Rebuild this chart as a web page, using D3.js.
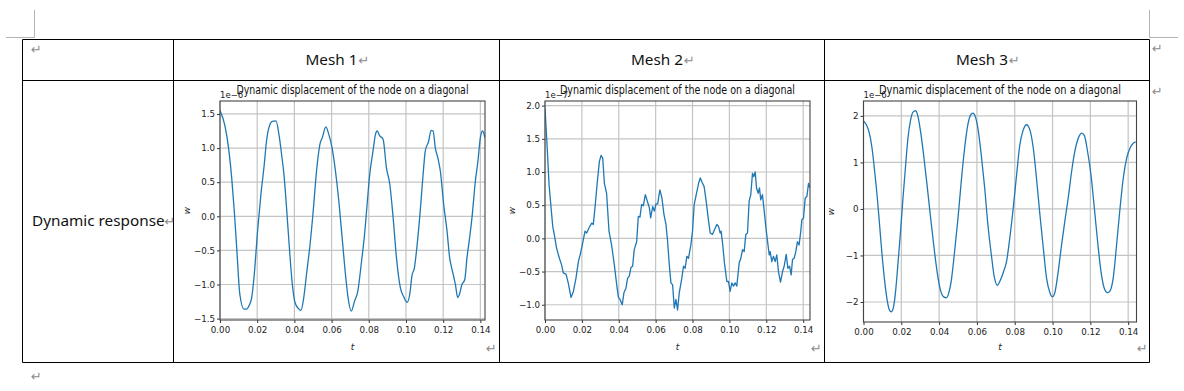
<!DOCTYPE html>
<html>
<head>
<meta charset="utf-8">
<script src="https://cdn.jsdelivr.net/npm/d3@7"></script>
<style>
  body { margin: 0; background: #fff; }
  svg text { font-family: "DejaVu Sans", sans-serif; }
  .doc { font-family: "Noto Sans", sans-serif; font-size: 15.3px; fill: #111; }
  .mark { font-family: "DejaVu Sans", sans-serif; font-size: 13px; fill: #8c8c8c; }
</style>
</head>
<body>
<div id="page"></div>
<script>
// Table text
const headers = ['Mesh 1', 'Mesh 2', 'Mesh 3'];
const rowLabel = 'Dynamic response';
const chartTitle = 'Dynamic displacement of the node on a diagonal';

// Mesh 1 (w in 1e-6)
const t1 = [0, 0.0027, 0.0048, 0.0063, 0.0077, 0.009, 0.0107, 0.0129, 0.0143, 0.0156, 0.017, 0.0184, 0.0202, 0.022, 0.0238, 0.025, 0.0263, 0.0281, 0.0301, 0.0317, 0.0331, 0.0344, 0.0358, 0.0372, 0.0389, 0.0403, 0.0421, 0.0435, 0.045, 0.0466, 0.0484, 0.0501, 0.0519, 0.0537, 0.0551, 0.0569, 0.0585, 0.0603, 0.0621, 0.0639, 0.0657, 0.0675, 0.0689, 0.0706, 0.0723, 0.0741, 0.0759, 0.0779, 0.0791, 0.0805, 0.0823, 0.0836, 0.0845, 0.0859, 0.0877, 0.0895, 0.0913, 0.0931, 0.0949, 0.097, 0.0988, 0.1006, 0.102, 0.1033, 0.1045, 0.106, 0.1078, 0.1092, 0.1104, 0.1122, 0.1135, 0.1146, 0.1158, 0.1171, 0.1185, 0.1203, 0.1221, 0.1235, 0.1248, 0.1266, 0.1278, 0.1287, 0.1301, 0.1316, 0.1328, 0.1342, 0.1355, 0.1373, 0.1387, 0.14, 0.1412, 0.1425];
const w1 = [1.55, 1.32, 0.96, 0.56, 0.07, -0.47, -1.15, -1.36, -1.36, -1.31, -1.2, -0.86, -0.22, 0.32, 0.76, 1.10, 1.30, 1.39, 1.40, 1.20, 0.91, 0.61, 0.12, -0.42, -1.0, -1.26, -1.35, -1.38, -1.2, -0.83, -0.42, 0.07, 0.66, 1.05, 1.16, 1.31, 1.20, 1.0, 0.66, 0.22, -0.32, -0.86, -1.2, -1.39, -1.25, -1.10, -0.71, -0.22, 0.17, 0.61, 0.96, 1.20, 1.25, 1.18, 1.13, 0.71, 0.47, -0.02, -0.61, -1.05, -1.18, -1.26, -1.15, -0.86, -0.76, -0.42, 0.12, 0.61, 0.96, 1.10, 1.26, 1.25, 1.0, 0.86, 0.66, 0.17, -0.22, -0.61, -0.78, -1.0, -1.19, -1.15, -1.0, -0.93, -0.61, -0.32, -0.02, 0.51, 0.81, 1.15, 1.25, 1.15];

// Mesh 2 (w in 1e-7)
const t2 = [0, 0.0005, 0.0013, 0.0022, 0.0033, 0.0042, 0.0054, 0.0063, 0.0078, 0.009, 0.0099, 0.0114, 0.0126, 0.0141, 0.0154, 0.0168, 0.0181, 0.0193, 0.0202, 0.0217, 0.0226, 0.0239, 0.0253, 0.0262, 0.0271, 0.0284, 0.0295, 0.0304, 0.0313, 0.0322, 0.0334, 0.0347, 0.0361, 0.0376, 0.0389, 0.0398, 0.0407, 0.0419, 0.0428, 0.0439, 0.0448, 0.0457, 0.0466, 0.0475, 0.0484, 0.0497, 0.0506, 0.0515, 0.0524, 0.0533, 0.0544, 0.0555, 0.0566, 0.0573, 0.0584, 0.0593, 0.0602, 0.0611, 0.0623, 0.0634, 0.0645, 0.0656, 0.0665, 0.0674, 0.0683, 0.0692, 0.0701, 0.071, 0.0719, 0.0728, 0.0742, 0.0751, 0.076, 0.0769, 0.0778, 0.0791, 0.08, 0.0809, 0.082, 0.0833, 0.0842, 0.0851, 0.0863, 0.0874, 0.0887, 0.0896, 0.0908, 0.0919, 0.0932, 0.0941, 0.095, 0.0955, 0.0964, 0.0973, 0.0986, 0.0995, 0.1004, 0.1013, 0.1022, 0.1031, 0.104, 0.1053, 0.1062, 0.1071, 0.108, 0.1089, 0.1098, 0.1107, 0.1116, 0.1125, 0.1132, 0.114, 0.1147, 0.1156, 0.1163, 0.117, 0.1179, 0.1188, 0.1198, 0.1207, 0.1216, 0.1221, 0.123, 0.1239, 0.1248, 0.1257, 0.1266, 0.1277, 0.1288, 0.1297, 0.1308, 0.1317, 0.1326, 0.1335, 0.1342, 0.1351, 0.136, 0.1369, 0.1378, 0.1387, 0.1393, 0.1402, 0.1411, 0.142, 0.1429, 0.1436];
const w2 = [1.96, 1.71, 1.31, 0.81, 0.46, 0.18, 0.0, -0.15, -0.30, -0.40, -0.52, -0.54, -0.67, -0.89, -0.80, -0.60, -0.35, -0.22, -0.10, 0.11, 0.08, 0.16, 0.23, 0.21, 0.46, 0.86, 1.16, 1.25, 1.21, 0.83, 0.68, 0.11, -0.10, -0.40, -0.70, -0.89, -0.92, -1.0, -0.82, -0.75, -0.60, -0.57, -0.44, -0.42, -0.17, -0.05, 0.33, 0.32, 0.51, 0.49, 0.66, 0.56, 0.46, 0.31, 0.48, 0.41, 0.52, 0.52, 0.73, 0.61, 0.36, 0.21, -0.05, -0.40, -0.67, -0.70, -1.05, -0.92, -1.08, -0.82, -0.60, -0.42, -0.45, -0.27, -0.30, -0.10, 0.11, 0.51, 0.66, 0.83, 0.91, 0.85, 0.78, 0.56, 0.26, 0.08, 0.06, 0.13, 0.21, 0.18, 0.08, 0.11, -0.10, -0.37, -0.65, -0.65, -0.80, -0.67, -0.72, -0.67, -0.72, -0.37, -0.30, -0.17, -0.20, 0.06, 0.08, 0.56, 0.66, 0.98, 0.93, 1.0, 0.76, 0.68, 0.76, 0.58, 0.66, 0.43, 0.16, -0.05, -0.25, -0.20, -0.35, -0.27, -0.35, -0.25, -0.50, -0.66, -0.50, -0.42, -0.24, -0.45, -0.42, -0.55, -0.32, -0.30, -0.20, -0.05, -0.10, 0.11, 0.28, 0.31, 0.61, 0.63, 0.83, 0.76];

// Mesh 3 (w in 1e-6)
const t3 = [0, 0.0015, 0.0029, 0.0045, 0.0059, 0.0073, 0.0085, 0.0098, 0.0112, 0.0126, 0.0138, 0.0147, 0.0158, 0.017, 0.0182, 0.0196, 0.0209, 0.0223, 0.0235, 0.0249, 0.0262, 0.0276, 0.0288, 0.0302, 0.0318, 0.0336, 0.0353, 0.0371, 0.0389, 0.0406, 0.0424, 0.0438, 0.045, 0.0464, 0.0482, 0.05, 0.0517, 0.0535, 0.0552, 0.0567, 0.0579, 0.0591, 0.0605, 0.0623, 0.0641, 0.0658, 0.0676, 0.0694, 0.0709, 0.0722, 0.0739, 0.0757, 0.0774, 0.0792, 0.081, 0.0827, 0.0845, 0.0863, 0.088, 0.0898, 0.0915, 0.0933, 0.0951, 0.0968, 0.0986, 0.1, 0.1012, 0.103, 0.1048, 0.1065, 0.1083, 0.1101, 0.1118, 0.1136, 0.1154, 0.1168, 0.1185, 0.1203, 0.1221, 0.1238, 0.1256, 0.1274, 0.1291, 0.1304, 0.1321, 0.1339, 0.1357, 0.1374, 0.1392, 0.141, 0.1427, 0.144];
const w3 = [1.89, 1.81, 1.66, 1.31, 0.81, 0.24, -0.34, -0.98, -1.55, -1.98, -2.18, -2.21, -2.12, -1.76, -1.19, -0.48, 0.24, 0.95, 1.52, 1.91, 2.08, 2.11, 1.99, 1.66, 1.16, 0.52, -0.12, -0.76, -1.34, -1.73, -1.89, -1.91, -1.82, -1.55, -0.91, -0.19, 0.59, 1.31, 1.81, 2.02, 2.06, 1.99, 1.74, 1.16, 0.45, -0.34, -0.98, -1.51, -1.64, -1.55, -1.37, -1.12, -0.62, 0.02, 0.74, 1.38, 1.70, 1.81, 1.70, 1.31, 0.66, -0.12, -0.84, -1.48, -1.80, -1.89, -1.80, -1.34, -0.76, -0.26, 0.24, 0.81, 1.24, 1.52, 1.63, 1.58, 1.24, 0.74, 0.02, -0.69, -1.34, -1.71, -1.80, -1.76, -1.48, -0.76, 0.02, 0.66, 1.09, 1.31, 1.41, 1.44];

// Tick values
const xTicks = [0, 0.02, 0.04, 0.06, 0.08, 0.10, 0.12, 0.14];
const yTicks1 = [-1.5, -1.0, -0.5, 0.0, 0.5, 1.0, 1.5];
const yTicks2 = [-1.0, -0.5, 0.0, 0.5, 1.0, 1.5, 2.0];
const yTicks3 = [-2, -1, 0, 1, 2];

const W = 1184, H = 391;
const svg = d3.select('#page').append('svg')
    .attr('width', W)
    .attr('height', H);

// Word page corner marks
const corner = svg.append('g').attr('stroke', '#b4b4b4').attr('fill', 'none');
corner.append('path').attr('d', 'M34.5,10 V37.5 H6');
corner.append('path').attr('d', 'M1149.5,10 V37.5 H1178');

// Table grid
const colX = [22.5, 173.5, 499.5, 824.5, 1149.5];
const rowY = [39.5, 80.5, 362.5];
const grid = svg.append('g').attr('stroke', '#000').attr('stroke-width', 1);
colX.forEach(x => grid.append('line').attr('x1', x).attr('x2', x).attr('y1', rowY[0]).attr('y2', rowY[2]));
rowY.forEach(y => grid.append('line').attr('x1', colX[0]).attr('x2', colX[4]).attr('y1', y).attr('y2', y));

// Header texts and paragraph marks
headers.forEach((h, i) => {
    const cx = (colX[i + 1] + colX[i + 2]) / 2;
    const txt = svg.append('text').attr('class', 'doc')
        .attr('x', cx - 5).attr('y', 65).attr('text-anchor', 'middle').text(h);
    const bb = txt.node().getBBox();
    svg.append('text').attr('class', 'mark').attr('x', bb.x + bb.width + 1).attr('y', 65).text('↵');
});
const lab = svg.append('text').attr('class', 'doc').attr('x', 32).attr('y', 226).text(rowLabel);
const lb = lab.node().getBBox();
svg.append('text').attr('class', 'mark').attr('x', lb.x + lb.width).attr('y', 226).text('↵');

[[31, 54], [1152, 53], [1152, 96], [486, 353], [811, 353], [1137, 353], [31, 381]].forEach(([x, y]) => {
    svg.append('text').attr('class', 'mark').attr('x', x).attr('y', y).text('↵');
});

// One matplotlib-like panel
function drawPanel({ id, left, right, top, bottom, xMax, yDomain, yTicks, yFormat, t, w, offset, curve, titleLen }) {
    const g = svg.append('g');
    const x = d3.scaleLinear().domain([0, xMax]).range([left, right]);
    const y = d3.scaleLinear().domain(yDomain).range([bottom, top]);

    g.append('rect').attr('x', left).attr('y', top)
        .attr('width', right - left).attr('height', bottom - top).attr('fill', '#fff');

    // grid
    g.selectAll('.gx').data(xTicks).join('line')
        .attr('x1', d => x(d)).attr('x2', d => x(d)).attr('y1', top).attr('y2', bottom)
        .attr('stroke', '#c4c4c4').attr('stroke-width', 1.2);
    g.selectAll('.gy').data(yTicks).join('line')
        .attr('x1', left).attr('x2', right).attr('y1', d => y(d)).attr('y2', d => y(d))
        .attr('stroke', '#c4c4c4').attr('stroke-width', 1.2);

    // axes
    const xAxis = g.append('g').attr('transform', `translate(0,${bottom})`)
        .call(d3.axisBottom(x).tickValues(xTicks).tickFormat(d3.format('.2f')).tickSize(3).tickSizeOuter(0));
    const yAxis = g.append('g').attr('transform', `translate(${left},0)`)
        .call(d3.axisLeft(y).tickValues(yTicks).tickFormat(d3.format(yFormat)).tickSize(3).tickSizeOuter(0));
    [xAxis, yAxis].forEach(a => {
        a.select('.domain').remove();
        a.selectAll('.tick line').attr('stroke', '#333');
        a.selectAll('.tick text').attr('fill', '#222')
            .style('font-family', '"DejaVu Sans", sans-serif').style('font-size', '8.7px');
    });
    xAxis.selectAll('.tick text').attr('dy', '0.71em').attr('y', 7);
    yAxis.selectAll('.tick text').attr('x', -5);

    // data line
    g.append('clipPath').attr('id', id).append('rect')
        .attr('x', left).attr('y', top - 2).attr('width', right - left).attr('height', bottom - top + 4);
    const line = d3.line().x(d => x(d[0])).y(d => y(d[1])).curve(curve);
    g.append('path').datum(t.map((v, i) => [v, w[i]]))
        .attr('clip-path', `url(#${id})`)
        .attr('d', line).attr('fill', 'none')
        .attr('stroke', '#1f77b4').attr('stroke-width', 1.3).attr('stroke-linejoin', 'round');

    // frame
    g.append('rect').attr('x', left).attr('y', top)
        .attr('width', right - left).attr('height', bottom - top)
        .attr('fill', 'none').attr('stroke', '#444').attr('stroke-width', 1.1);

    // labels
    g.append('text').attr('x', (left + right) / 2).attr('y', 94)
        .attr('text-anchor', 'middle').attr('font-size', 11.5)
        .attr('textLength', titleLen).attr('lengthAdjust', 'spacingAndGlyphs')
        .attr('fill', '#111').text(chartTitle);
    g.append('text').attr('x', left).attr('y', 97.5)
        .attr('font-size', 8.5).attr('fill', '#222').text(offset);
    g.append('text').attr('x', (left + right) / 2).attr('y', 350)
        .attr('text-anchor', 'middle').attr('font-size', 9).attr('font-style', 'italic')
        .attr('fill', '#222').text('t');
    g.append('text')
        .attr('transform', `translate(${left - 30},${(top + bottom) / 2}) rotate(-90)`)
        .attr('text-anchor', 'middle').attr('font-size', 9).attr('font-style', 'italic')
        .attr('fill', '#222').text('w');
}

drawPanel({ id: 'c1', left: 220, right: 485, top: 101, bottom: 320, xMax: 0.1425,
    yDomain: [-1.52, 1.69], yTicks: yTicks1, yFormat: '.1f', t: t1, w: w1,
    offset: '1e−6', curve: d3.curveMonotoneX, titleLen: 232 });
drawPanel({ id: 'c2', left: 545, right: 810, top: 101, bottom: 320, xMax: 0.1437,
    yDomain: [-1.23, 2.07], yTicks: yTicks2, yFormat: '.1f', t: t2, w: w2,
    offset: '1e−7', curve: d3.curveLinear, titleLen: 235 });
drawPanel({ id: 'c3', left: 863.5, right: 1136.5, top: 101, bottom: 322, xMax: 0.1444,
    yDomain: [-2.43, 2.32], yTicks: yTicks3, yFormat: 'd', t: t3, w: w3,
    offset: '1e−6', curve: d3.curveMonotoneX, titleLen: 242 });
</script>
</body>
</html>
